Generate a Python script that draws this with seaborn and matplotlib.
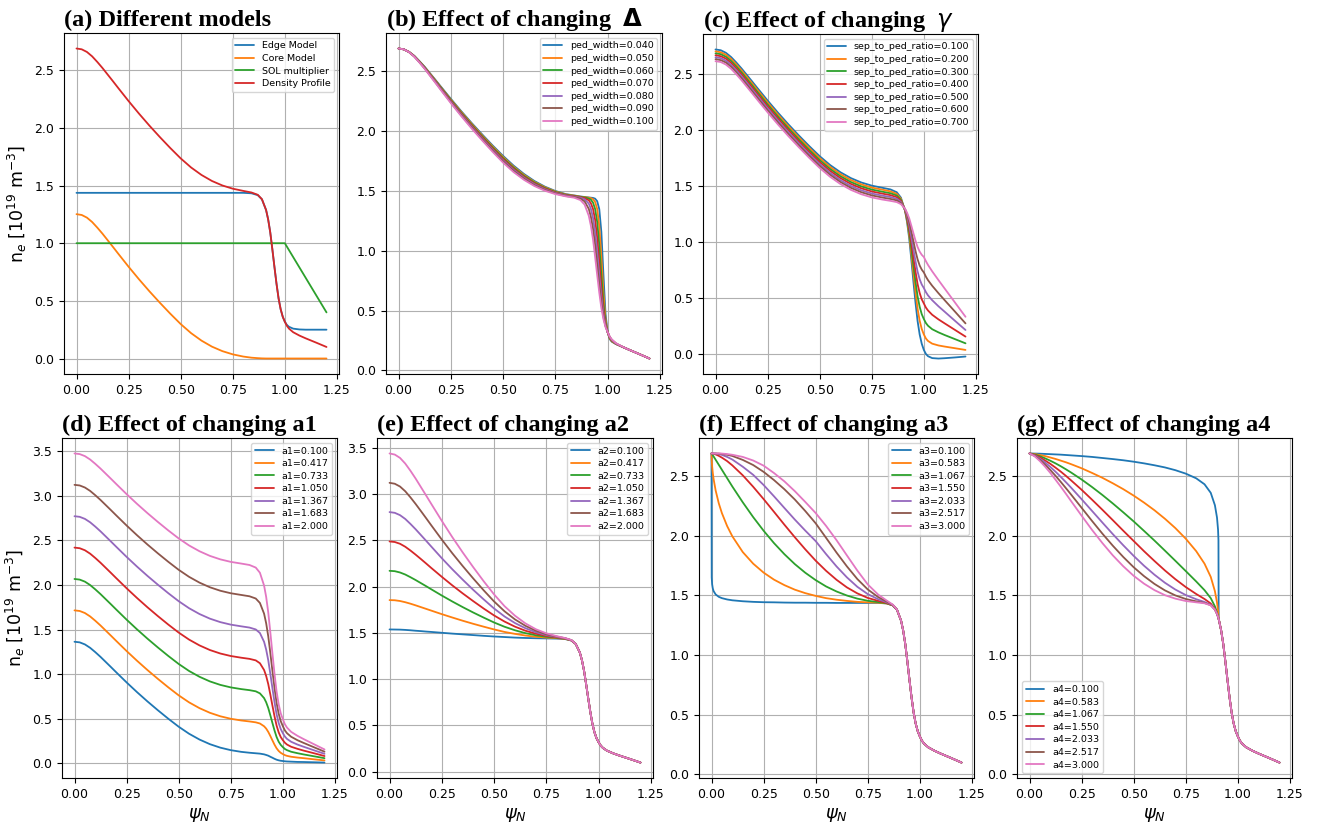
import matplotlib
matplotlib.use("Agg")
import matplotlib.pyplot as plt
import seaborn as sns

# ---------------------------------------------------------------- data
# normalised flux coordinate used by panels (a)-(d)
PSI = [0.0, 0.025, 0.05, 0.075, 0.1, 0.125, 0.15, 0.175, 0.2, 0.25, 0.3, 0.35, 0.4, 0.45, 0.5,
       0.55, 0.6, 0.65, 0.7, 0.75, 0.8, 0.84, 0.87, 0.89, 0.91, 0.92, 0.93, 0.94, 0.95,
       0.96, 0.97, 0.98, 0.99, 1.0, 1.01, 1.02, 1.04, 1.07, 1.1, 1.15, 1.2]

# (a) model components
EDGE_MODEL = [1.437] * 21 + [1.433, 1.417, 1.381, 1.288, 1.206, 1.094, 0.949, 0.796,
                             0.649, 0.521, 0.427, 0.362, 0.319, 0.291, 0.275, 0.259,
                             0.252, 0.250, 0.250, 0.250]
CORE_MODEL = [1.252, 1.245, 1.222, 1.184, 1.135, 1.082, 1.025, 0.968, 0.910, 0.796, 0.687,
              0.583, 0.484, 0.389, 0.299, 0.220, 0.155, 0.103, 0.064, 0.036, 0.017,
              0.007, 0.003, 0.001] + [0.0] * 17
SOL_MULT = [1.0] * 34 + [0.97, 0.94, 0.88, 0.79, 0.70, 0.55, 0.40]
DENSITY = [2.689, 2.682, 2.659, 2.621, 2.572, 2.519, 2.462, 2.405, 2.347, 2.233, 2.124, 2.020,
           1.921, 1.826, 1.736, 1.657, 1.592, 1.540, 1.501, 1.473, 1.454, 1.440, 1.420, 1.382,
           1.288, 1.206, 1.094, 0.949, 0.796, 0.649, 0.521, 0.427, 0.362, 0.319, 0.283, 0.259,
           0.228, 0.199, 0.175, 0.138, 0.100]

# (b) pedestal width scan
PED_WIDTH = [0.04, 0.05, 0.06, 0.07, 0.08, 0.09, 0.10]
PW_040 = [2.689, 2.682, 2.661, 2.628, 2.583, 2.536, 2.483, 2.430, 2.376, 2.269, 2.165, 2.066, 1.971, 1.879, 1.792,
          1.711, 1.641, 1.582, 1.535, 1.499, 1.473,
          1.462, 1.453, 1.449, 1.445, 1.443, 1.441, 1.435, 1.414, 1.348, 1.156, 0.797, 0.471, 0.320, 0.262, 0.240, 0.220, 0.198, 0.175, 0.138, 0.100]
PW_050 = [2.689, 2.682, 2.661, 2.627, 2.581, 2.533, 2.480, 2.426, 2.371, 2.263, 2.159, 2.059, 1.963, 1.871, 1.783,
          1.702, 1.633, 1.575, 1.530, 1.495, 1.470,
          1.460, 1.451, 1.448, 1.443, 1.439, 1.431, 1.408, 1.349, 1.208, 0.951, 0.650, 0.428, 0.320, 0.267, 0.243, 0.221, 0.198, 0.175, 0.138, 0.100]
PW_060 = [2.689, 2.682, 2.660, 2.626, 2.580, 2.531, 2.476, 2.422, 2.367, 2.258, 2.152, 2.051, 1.955, 1.862, 1.774,
          1.694, 1.625, 1.569, 1.524, 1.491, 1.467,
          1.457, 1.450, 1.446, 1.436, 1.426, 1.402, 1.349, 1.241, 1.050, 0.797, 0.561, 0.402, 0.320, 0.271, 0.247, 0.222, 0.198, 0.175, 0.138, 0.100]
PW_070 = [2.689, 2.682, 2.660, 2.625, 2.578, 2.528, 2.473, 2.418, 2.362, 2.252, 2.145, 2.044, 1.947, 1.853, 1.765,
          1.685, 1.617, 1.562, 1.519, 1.486, 1.464,
          1.455, 1.447, 1.440, 1.421, 1.396, 1.350, 1.260, 1.110, 0.910, 0.688, 0.509, 0.387, 0.320, 0.275, 0.250, 0.223, 0.198, 0.175, 0.138, 0.100]
PW_080 = [2.689, 2.682, 2.660, 2.623, 2.576, 2.525, 2.469, 2.414, 2.357, 2.245, 2.138, 2.036, 1.938, 1.844, 1.755,
          1.676, 1.609, 1.555, 1.513, 1.482, 1.461,
          1.451, 1.443, 1.430, 1.393, 1.349, 1.275, 1.157, 0.991, 0.797, 0.614, 0.471, 0.375, 0.320, 0.278, 0.254, 0.224, 0.198, 0.175, 0.138, 0.100]
PW_090 = [2.689, 2.682, 2.659, 2.622, 2.574, 2.522, 2.466, 2.409, 2.352, 2.239, 2.131, 2.028, 1.930, 1.835, 1.746,
          1.667, 1.601, 1.547, 1.507, 1.478, 1.457,
          1.448, 1.435, 1.412, 1.349, 1.282, 1.185, 1.050, 0.887, 0.711, 0.561, 0.447, 0.369, 0.320, 0.281, 0.256, 0.226, 0.198, 0.175, 0.138, 0.100]
PW_100 = [2.689, 2.682, 2.659, 2.621, 2.572, 2.519, 2.462, 2.405, 2.347, 2.233, 2.124, 2.020, 1.921, 1.826, 1.736,
          1.657, 1.592, 1.540, 1.501, 1.473, 1.454,
          1.443, 1.423, 1.385, 1.291, 1.208, 1.096, 0.951, 0.797, 0.650, 0.521, 0.428, 0.362, 0.320, 0.283, 0.259, 0.228, 0.199, 0.175, 0.138, 0.100]

# (c) separatrix-to-pedestal ratio scan
SEP_RATIO = [0.1, 0.2, 0.3, 0.4, 0.5, 0.6, 0.7]
SR_1 = [2.722, 2.715, 2.692, 2.654, 2.605, 2.552, 2.495, 2.438, 2.380, 2.266, 2.157, 2.053, 1.954, 1.859, 1.769,
        1.690, 1.625, 1.573, 1.534, 1.506, 1.487,
        1.472, 1.447, 1.399, 1.280, 1.174, 1.031, 0.845, 0.649, 0.461, 0.297, 0.177, 0.094, 0.039, 0.003, -0.017, -0.034, -0.038, -0.035, -0.028, -0.020]
SR_2 = [2.705, 2.697, 2.675, 2.637, 2.588, 2.535, 2.478, 2.421, 2.363, 2.249, 2.140, 2.036, 1.937, 1.842, 1.752,
        1.673, 1.608, 1.556, 1.517, 1.489, 1.470,
        1.455, 1.432, 1.389, 1.283, 1.189, 1.061, 0.896, 0.721, 0.553, 0.407, 0.300, 0.226, 0.177, 0.141, 0.119, 0.095, 0.079, 0.069, 0.054, 0.039]
SR_3 = [2.687, 2.680, 2.657, 2.619, 2.570, 2.517, 2.460, 2.403, 2.345, 2.231, 2.122, 2.018, 1.919, 1.824, 1.734,
        1.655, 1.590, 1.538, 1.499, 1.471, 1.452,
        1.438, 1.418, 1.380, 1.286, 1.204, 1.091, 0.946, 0.793, 0.646, 0.517, 0.424, 0.358, 0.315, 0.279, 0.255, 0.224, 0.196, 0.172, 0.135, 0.098]
SR_4 = [2.670, 2.662, 2.640, 2.602, 2.553, 2.500, 2.443, 2.386, 2.328, 2.214, 2.105, 2.001, 1.902, 1.807, 1.717,
        1.638, 1.573, 1.521, 1.482, 1.454, 1.435,
        1.421, 1.403, 1.370, 1.289, 1.218, 1.122, 0.997, 0.865, 0.738, 0.627, 0.547, 0.491, 0.454, 0.417, 0.391, 0.353, 0.312, 0.276, 0.217, 0.158]
SR_5 = [2.652, 2.645, 2.622, 2.584, 2.535, 2.482, 2.425, 2.368, 2.310, 2.196, 2.087, 1.983, 1.884, 1.789, 1.699,
        1.620, 1.555, 1.503, 1.464, 1.436, 1.417,
        1.404, 1.388, 1.360, 1.293, 1.233, 1.152, 1.047, 0.937, 0.831, 0.738, 0.670, 0.623, 0.592, 0.555, 0.526, 0.483, 0.429, 0.380, 0.298, 0.217]
SR_6 = [2.635, 2.627, 2.605, 2.567, 2.518, 2.465, 2.408, 2.351, 2.293, 2.179, 2.070, 1.966, 1.867, 1.772, 1.682,
        1.603, 1.538, 1.486, 1.447, 1.419, 1.400,
        1.387, 1.374, 1.351, 1.296, 1.248, 1.182, 1.098, 1.009, 0.923, 0.848, 0.793, 0.756, 0.731, 0.693, 0.662, 0.612, 0.546, 0.483, 0.380, 0.276]
SR_7 = [2.617, 2.610, 2.587, 2.549, 2.500, 2.447, 2.390, 2.333, 2.275, 2.161, 2.052, 1.948, 1.849, 1.754, 1.664,
        1.585, 1.520, 1.468, 1.429, 1.401, 1.382,
        1.370, 1.359, 1.341, 1.299, 1.262, 1.213, 1.148, 1.081, 1.015, 0.958, 0.917, 0.888, 0.869, 0.831, 0.798, 0.741, 0.663, 0.587, 0.461, 0.335]

# (d) a1 scan
A1_VALUES = [0.100, 0.417, 0.733, 1.050, 1.367, 1.683, 2.000]
A1_1 = [1.363, 1.356, 1.333, 1.295, 1.246, 1.193, 1.136, 1.079, 1.021, 0.907, 0.798, 0.694, 0.595, 0.500, 0.410,
        0.331, 0.266, 0.214, 0.175, 0.147, 0.128,
        0.118, 0.112, 0.108, 0.100, 0.093, 0.085, 0.073, 0.062, 0.050, 0.040, 0.033, 0.028, 0.025, 0.022, 0.020, 0.018, 0.015, 0.014, 0.011, 0.008]
A1_2 = [1.715, 1.708, 1.685, 1.647, 1.598, 1.545, 1.488, 1.431, 1.373, 1.259, 1.150, 1.046, 0.947, 0.852, 0.762,
        0.683, 0.618, 0.566, 0.527, 0.499, 0.480,
        0.469, 0.459, 0.446, 0.415, 0.389, 0.352, 0.306, 0.257, 0.209, 0.168, 0.138, 0.117, 0.103, 0.091, 0.083, 0.073, 0.064, 0.057, 0.044, 0.032]
A1_3 = [2.067, 2.060, 2.037, 1.999, 1.950, 1.897, 1.840, 1.783, 1.725, 1.611, 1.502, 1.398, 1.299, 1.204, 1.114,
        1.035, 0.970, 0.918, 0.879, 0.851, 0.832,
        0.820, 0.807, 0.784, 0.731, 0.684, 0.620, 0.538, 0.452, 0.368, 0.295, 0.242, 0.206, 0.181, 0.160, 0.147, 0.129, 0.113, 0.099, 0.078, 0.057]
A1_4 = [2.419, 2.412, 2.389, 2.351, 2.302, 2.249, 2.192, 2.135, 2.077, 1.963, 1.854, 1.750, 1.651, 1.556, 1.466,
        1.387, 1.322, 1.270, 1.231, 1.203, 1.184,
        1.171, 1.154, 1.122, 1.046, 0.979, 0.888, 0.771, 0.647, 0.527, 0.423, 0.347, 0.294, 0.259, 0.230, 0.210, 0.185, 0.162, 0.142, 0.112, 0.081]
A1_5 = [2.771, 2.764, 2.741, 2.703, 2.654, 2.601, 2.544, 2.487, 2.429, 2.315, 2.206, 2.102, 2.003, 1.908, 1.818,
        1.739, 1.674, 1.622, 1.583, 1.555, 1.536,
        1.522, 1.501, 1.461, 1.362, 1.275, 1.156, 1.003, 0.842, 0.686, 0.550, 0.452, 0.383, 0.338, 0.299, 0.273, 0.241, 0.210, 0.185, 0.145, 0.106]
A1_6 = [3.123, 3.116, 3.093, 3.055, 3.006, 2.953, 2.896, 2.839, 2.781, 2.667, 2.558, 2.454, 2.355, 2.260, 2.170,
        2.091, 2.026, 1.974, 1.935, 1.907, 1.888,
        1.873, 1.848, 1.798, 1.678, 1.570, 1.424, 1.236, 1.037, 0.845, 0.678, 0.556, 0.472, 0.416, 0.368, 0.337, 0.297, 0.259, 0.228, 0.179, 0.130]
A1_7 = [3.475, 3.468, 3.445, 3.407, 3.358, 3.305, 3.248, 3.191, 3.133, 3.019, 2.910, 2.806, 2.707, 2.612, 2.522,
        2.443, 2.378, 2.326, 2.287, 2.259, 2.240,
        2.224, 2.195, 2.137, 1.993, 1.866, 1.692, 1.468, 1.232, 1.004, 0.805, 0.661, 0.560, 0.494, 0.437, 0.400, 0.352, 0.308, 0.271, 0.213, 0.155]

# shared pedestal / SOL tail of panels (e)-(g)
TAIL_PSI = [0.91, 0.92, 0.93, 0.94, 0.95, 0.96, 0.97, 0.98, 0.99, 1.0, 1.01, 1.02, 1.04, 1.07, 1.1, 1.15, 1.2]
TAIL_NE = [1.288, 1.206, 1.094, 0.949, 0.796, 0.649, 0.521, 0.427, 0.362, 0.319, 0.283, 0.259, 0.228, 0.199, 0.175, 0.138, 0.100]

# (e) a2 scan
A2_VALUES = [0.100, 0.417, 0.733, 1.050, 1.367, 1.683, 2.000]
PSI_E = PSI[:24]
A2_1 = [1.537, 1.536, 1.535, 1.532, 1.528, 1.523, 1.519, 1.514, 1.510, 1.501, 1.492, 1.484, 1.476, 1.468, 1.461,
        1.455, 1.449, 1.445, 1.442, 1.440, 1.438, 1.433, 1.417, 1.381]
A2_2 = [1.854, 1.852, 1.844, 1.831, 1.815, 1.797, 1.778, 1.759, 1.740, 1.702, 1.666, 1.631, 1.598, 1.567, 1.537,
        1.510, 1.489, 1.471, 1.458, 1.449, 1.443, 1.435, 1.418, 1.381]
A2_3 = [2.170, 2.166, 2.152, 2.130, 2.101, 2.070, 2.037, 2.004, 1.970, 1.903, 1.839, 1.778, 1.720, 1.665, 1.612,
        1.566, 1.528, 1.497, 1.474, 1.458, 1.447, 1.437, 1.419, 1.381]
A2_4 = [2.487, 2.481, 2.462, 2.430, 2.389, 2.344, 2.297, 2.249, 2.200, 2.105, 2.013, 1.926, 1.843, 1.763, 1.688,
        1.622, 1.567, 1.523, 1.491, 1.467, 1.451, 1.439, 1.419, 1.382]
A2_5 = [2.804, 2.796, 2.771, 2.730, 2.676, 2.618, 2.556, 2.494, 2.431, 2.306, 2.187, 2.074, 1.965, 1.862, 1.763,
        1.677, 1.606, 1.550, 1.507, 1.476, 1.456, 1.441, 1.420, 1.382]
A2_6 = [3.120, 3.110, 3.080, 3.029, 2.963, 2.891, 2.815, 2.738, 2.660, 2.507, 2.360, 2.221, 2.088, 1.960, 1.839,
        1.733, 1.645, 1.576, 1.523, 1.485, 1.460, 1.442, 1.421, 1.382]
A2_7 = [3.437, 3.425, 3.389, 3.328, 3.250, 3.165, 3.074, 2.983, 2.891, 2.709, 2.534, 2.368, 2.210, 2.058, 1.915,
        1.788, 1.685, 1.602, 1.539, 1.495, 1.464, 1.444, 1.422, 1.382]

# (f) a3 scan
A3_VALUES = [0.100, 0.583, 1.067, 1.550, 2.033, 2.517, 3.000]
PSI_F = [0.0, 0.001, 0.003, 0.006, 0.01, 0.02, 0.035, 0.05, 0.075, 0.1, 0.15, 0.2, 0.25, 0.3, 0.35,
         0.4, 0.45, 0.5, 0.55, 0.6, 0.65, 0.7, 0.75, 0.8, 0.84, 0.87, 0.89]
A3_1 = [2.689, 1.652, 1.593, 1.560, 1.536, 1.508, 1.488, 1.477, 1.466, 1.459, 1.451, 1.446, 1.443, 1.442,
        1.440, 1.439, 1.439, 1.438, 1.438, 1.437, 1.437, 1.437, 1.437, 1.437, 1.433, 1.417, 1.381]
A3_2 = [2.689, 2.631, 2.580, 2.528, 2.475, 2.378, 2.271, 2.189, 2.081, 1.995, 1.863, 1.766, 1.691, 1.632,
        1.586, 1.548, 1.519, 1.496, 1.477, 1.464, 1.454, 1.446, 1.442, 1.439, 1.433, 1.417, 1.381]
A3_3 = [2.689, 2.687, 2.682, 2.674, 2.664, 2.636, 2.594, 2.552, 2.482, 2.412, 2.280, 2.156, 2.042, 1.938,
        1.845, 1.762, 1.690, 1.628, 1.575, 1.533, 1.499, 1.473, 1.455, 1.444, 1.435, 1.417, 1.381]
A3_4 = [2.689, 2.689, 2.689, 2.688, 2.686, 2.681, 2.669, 2.654, 2.625, 2.589, 2.506, 2.410, 2.307, 2.200,
        2.092, 1.987, 1.886, 1.791, 1.706, 1.631, 1.567, 1.517, 1.479, 1.454, 1.438, 1.418, 1.381]
A3_5 = [2.689, 2.689, 2.689, 2.689, 2.689, 2.688, 2.683, 2.677, 2.660, 2.638, 2.578, 2.510, 2.425, 2.330,
        2.232, 2.135, 2.043, 1.955, 1.846, 1.743, 1.651, 1.572, 1.511, 1.468, 1.443, 1.419, 1.381]
A3_6 = [2.689, 2.689, 2.689, 2.689, 2.689, 2.689, 2.688, 2.685, 2.678, 2.668, 2.635, 2.592, 2.535, 2.466,
        2.389, 2.303, 2.207, 2.104, 1.982, 1.859, 1.743, 1.637, 1.550, 1.486, 1.450, 1.421, 1.381]
A3_7 = [2.689, 2.689, 2.689, 2.689, 2.689, 2.689, 2.689, 2.688, 2.684, 2.678, 2.660, 2.630, 2.587, 2.525,
        2.455, 2.373, 2.283, 2.190, 2.082, 1.963, 1.835, 1.708, 1.592, 1.507, 1.458, 1.423, 1.381]

# (g) a4 scan
A4_VALUES = [0.100, 0.583, 1.067, 1.550, 2.033, 2.517, 3.000]
PSI_G = PSI[:24] + [0.9, 0.905, 0.907, 0.908]
A4_1 = [2.689, 2.688, 2.687, 2.685, 2.683, 2.681, 2.679, 2.676, 2.673, 2.667, 2.660, 2.651, 2.642, 2.632, 2.620,
        2.606, 2.590, 2.572, 2.549, 2.520, 2.481, 2.431, 2.359, 2.255, 2.152, 2.051, 1.963, 1.302]
A4_2 = [2.689, 2.684, 2.676, 2.667, 2.655, 2.643, 2.629, 2.615, 2.599, 2.565, 2.526, 2.485, 2.439, 2.390, 2.336,
        2.277, 2.213, 2.142, 2.064, 1.975, 1.871, 1.766, 1.655, 1.535, 1.441, 1.374, 1.337, 1.302]
A4_3 = [2.689, 2.680, 2.666, 2.648, 2.628, 2.606, 2.582, 2.556, 2.529, 2.471, 2.408, 2.341, 2.270, 2.196, 2.120,
        2.040, 1.959, 1.875, 1.790, 1.704, 1.617, 1.544, 1.477, 1.408, 1.357, 1.324, 1.309, 1.302]
A4_4 = [2.689, 2.676, 2.656, 2.630, 2.602, 2.570, 2.537, 2.501, 2.463, 2.385, 2.302, 2.217, 2.130, 2.042, 1.956,
        1.870, 1.788, 1.709, 1.636, 1.570, 1.512, 1.470, 1.432, 1.386, 1.346, 1.320, 1.308, 1.302]
A4_5 = [2.689, 2.672, 2.645, 2.613, 2.576, 2.536, 2.493, 2.448, 2.402, 2.306, 2.208, 2.110, 2.013, 1.920, 1.831,
        1.748, 1.673, 1.606, 1.549, 1.503, 1.468, 1.445, 1.421, 1.382, 1.345, 1.320, 1.308, 1.302]
A4_6 = [2.689, 2.668, 2.635, 2.595, 2.550, 2.502, 2.451, 2.398, 2.344, 2.234, 2.124, 2.017, 1.916, 1.822, 1.736,
        1.661, 1.596, 1.542, 1.500, 1.470, 1.450, 1.437, 1.418, 1.381, 1.345, 1.320, 1.308, 1.302]
A4_7 = [2.689, 2.665, 2.625, 2.578, 2.526, 2.469, 2.411, 2.351, 2.289, 2.168, 2.049, 1.938, 1.835, 1.744, 1.664,
        1.598, 1.544, 1.502, 1.473, 1.453, 1.442, 1.434, 1.417, 1.381, 1.345, 1.320, 1.308, 1.302]

# ---------------------------------------------------------------- style
sns.set_style("ticks")
plt.rcParams.update({
    "font.family": ["DejaVu Sans"],
    "axes.edgecolor": "black",
    "axes.linewidth": 0.8,
    "axes.labelcolor": "black",
    "text.color": "black",
    "xtick.color": "black",
    "ytick.color": "black",
    "xtick.major.size": 3.5,
    "ytick.major.size": 3.5,
    "xtick.major.width": 0.8,
    "ytick.major.width": 0.8,
    "xtick.direction": "out",
    "ytick.direction": "out",
    "mathtext.fontset": "dejavusans",
})

COLORS = sns.color_palette("tab10", 7)
W, H = 1325, 825
fig = plt.figure(figsize=(W / 100, H / 100), dpi=100)
XTICKS = [0.0, 0.25, 0.5, 0.75, 1.0, 1.25]


def make_axes(left, top, right, bottom):
    return fig.add_axes([left / W, 1 - bottom / H, (right - left) / W, (bottom - top) / H])


def style_axes(ax, title, xlabel=False, ylabel=False, legend_loc="upper right"):
    ax.set_xticks(XTICKS)
    ax.grid(True, color="#b0b0b0", linewidth=0.8)
    ax.tick_params(labelsize=9)
    ax.set_title(title, loc="left", fontfamily="Liberation Serif", fontweight="bold",
                 fontsize=17.5, pad=5)
    ax.set_xlabel(r"$\psi_N$" if xlabel else "", fontsize=13)
    ax.set_ylabel(r"n$_e$ [10$^{19}$ m$^{-3}$]" if ylabel else "", fontsize=12.5)
    ax.legend(loc=legend_loc, fontsize=6.8, labelspacing=0.38, framealpha=0.8,
              edgecolor="0.8", fancybox=True, handlelength=2.0)
    for s in ax.spines.values():
        s.set_visible(True)
        s.set_color("black")


def draw(ax, x, y, color, label):
    sns.lineplot(x=x, y=y, ax=ax, color=color, label=label, linewidth=1.3,
                 sort=False, errorbar=None)


# (a)
ax = make_axes(64, 33, 339, 374)
for ys, lab, c in zip([EDGE_MODEL, CORE_MODEL, SOL_MULT, DENSITY],
                      ["Edge Model", "Core Model", "SOL multiplier", "Density Profile"], COLORS):
    draw(ax, PSI, ys, c, lab)
style_axes(ax, "(a) Different models", ylabel=True)

# (b)
ax = make_axes(386, 33, 662, 374)
for ys, w, c in zip([PW_040, PW_050, PW_060, PW_070, PW_080, PW_090, PW_100], PED_WIDTH, COLORS):
    draw(ax, PSI, ys, c, f"ped_width={w:.3f}")
style_axes(ax, r"(b) Effect of changing  $\mathbf{\Delta}$")

# (c)
ax = make_axes(703, 34, 978, 374)
for ys, r, c in zip([SR_1, SR_2, SR_3, SR_4, SR_5, SR_6, SR_7], SEP_RATIO, COLORS):
    draw(ax, PSI, ys, c, f"sep_to_ped_ratio={r:.3f}")
style_axes(ax, r"(c) Effect of changing  $\gamma$")

# (d)
ax = make_axes(62, 438, 337, 778)
for ys, v, c in zip([A1_1, A1_2, A1_3, A1_4, A1_5, A1_6, A1_7], A1_VALUES, COLORS):
    draw(ax, PSI, ys, c, f"a1={v:.3f}")
style_axes(ax, "(d) Effect of changing a1", xlabel=True, ylabel=True)

# (e)
ax = make_axes(377, 438, 653, 778)
for ys, v, c in zip([A2_1, A2_2, A2_3, A2_4, A2_5, A2_6, A2_7], A2_VALUES, COLORS):
    draw(ax, PSI_E + TAIL_PSI, ys + TAIL_NE, c, f"a2={v:.3f}")
style_axes(ax, "(e) Effect of changing a2", xlabel=True)

# (f)
ax = make_axes(699, 438, 974, 778)
for ys, v, c in zip([A3_1, A3_2, A3_3, A3_4, A3_5, A3_6, A3_7], A3_VALUES, COLORS):
    draw(ax, PSI_F + TAIL_PSI, ys + TAIL_NE, c, f"a3={v:.3f}")
style_axes(ax, "(f) Effect of changing a3", xlabel=True)

# (g)
ax = make_axes(1017, 438, 1292, 778)
for ys, v, c in zip([A4_1, A4_2, A4_3, A4_4, A4_5, A4_6, A4_7], A4_VALUES, COLORS):
    draw(ax, PSI_G + TAIL_PSI, ys + TAIL_NE, c, f"a4={v:.3f}")
style_axes(ax, "(g) Effect of changing a4", xlabel=True, legend_loc="lower left")

fig.savefig("out.png", dpi=100, facecolor="white")
